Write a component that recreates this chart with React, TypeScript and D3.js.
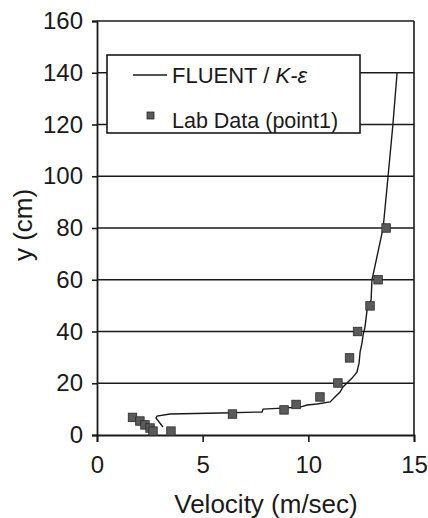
import React, { useEffect, useRef } from "react";
import * as d3 from "d3";

const xTicks = [0, 5, 10, 15];
const yTicks = [0, 20, 40, 60, 80, 100, 120, 140, 160];

// FLUENT / k-epsilon profile (velocity m/s, height cm)
const lineVel = [3.12, 2.79, 2.84, 3.45, 5.82, 7.81, 7.86, 8.76, 9.61, 9.94, 10.41, 11.03, 11.26, 11.5, 11.64, 11.83, 12.07, 12.3, 12.4, 12.45, 12.54, 12.59, 12.68, 12.78, 12.97, 13.01, 13.54, 13.77, 14.0, 14.2];
const lineY = [3.1, 6.6, 7.3, 8.1, 8.5, 8.9, 10.0, 10.4, 10.8, 11.6, 12.0, 12.8, 14.7, 16.6, 18.6, 20.1, 22.0, 24.3, 27.8, 32.1, 35.6, 38.6, 41.7, 48.3, 52.2, 59.9, 80, 99.7, 119.8, 140];

// Lab data (point1)
const labVel = [1.68, 2.03, 2.27, 2.51, 2.65, 3.5, 6.41, 8.85, 9.42, 10.55, 11.4, 11.95, 12.33, 12.92, 13.3, 13.68];
const labY = [6.8, 5.4, 3.9, 2.7, 1.5, 1.5, 8.1, 9.7, 11.8, 14.7, 20.1, 29.8, 40, 49.9, 60, 80];

const W = 428;
const H = 518;
const M = { left: 97, top: 21, right: 14, bottom: 83 };
const tickFont = "'Liberation Sans Narrow', 'Liberation Sans', Arial, sans-serif";
const font = "'Liberation Sans', Arial, sans-serif";

export default function App() {
  const ref = useRef<SVGSVGElement>(null);
  useEffect(() => {
    const svg = d3.select(ref.current);
    svg.selectAll("*").remove();
    const x = d3.scaleLinear().domain([0, 15]).range([M.left, W - M.right]);
    const y = d3.scaleLinear().domain([0, 160]).range([H - M.bottom, M.top]);

    const g = svg.append("g");
    // gridlines
    g.selectAll("line.grid")
      .data(yTicks.slice(1))
      .join("line")
      .attr("x1", x(0))
      .attr("x2", x(15))
      .attr("y1", (d) => y(d))
      .attr("y2", (d) => y(d))
      .attr("stroke", "#1a1a1a")
      .attr("stroke-width", 1.6);
    // right border
    g.append("line")
      .attr("x1", x(15)).attr("x2", x(15))
      .attr("y1", y(160)).attr("y2", y(0))
      .attr("stroke", "#1a1a1a").attr("stroke-width", 1.6);

    // axes
    const xAxis = d3.axisBottom(x).tickValues(xTicks).tickSize(7).tickPadding(14).tickFormat(d3.format("d"));
    const gx = svg.append("g").attr("transform", `translate(0,${y(0)})`).call(xAxis);
    gx.select(".domain").attr("stroke", "#1a1a1a").attr("stroke-width", 1.8);
    gx.selectAll(".tick line").attr("stroke", "#1a1a1a").attr("stroke-width", 1.6);
    gx.selectAll(".tick text")
      .attr("font-family", tickFont)
      .attr("font-size", 24)
      .attr("fill", "#1a1a1a");

    const yAxis = d3.axisLeft(y).tickValues(yTicks).tickSize(5).tickPadding(9).tickFormat(d3.format("d"));
    const gy = svg.append("g").attr("transform", `translate(${x(0)},0)`).call(yAxis);
    gy.select(".domain").attr("stroke", "#1a1a1a").attr("stroke-width", 1.8);
    gy.selectAll(".tick line").attr("stroke", "#1a1a1a").attr("stroke-width", 1.6);
    gy.selectAll(".tick text")
      .attr("font-family", tickFont)
      .attr("font-size", 24)
      .attr("fill", "#1a1a1a");

    // FLUENT line
    const pts = lineVel.map((v, i) => [v, lineY[i]] as [number, number]);
    const line = d3.line<[number, number]>().x((d) => x(d[0])).y((d) => y(d[1]));
    svg.append("path")
      .attr("d", line(pts))
      .attr("fill", "none")
      .attr("stroke", "#1a1a1a")
      .attr("stroke-width", 1.4);

    // Lab points
    const s = 8.5;
    svg.selectAll("rect.lab")
      .data(labVel.map((v, i) => [v, labY[i]]))
      .join("rect")
      .attr("x", (d) => x(d[0]) - s / 2)
      .attr("y", (d) => y(d[1]) - s / 2)
      .attr("width", s)
      .attr("height", s)
      .attr("fill", "#5a5a5a")
      .attr("stroke", "#2a2a2a")
      .attr("stroke-width", 0.8);

    // legend
    const lg = svg.append("g");
    lg.append("rect")
      .attr("x", 107).attr("y", 55).attr("width", 253).attr("height", 78)
      .attr("fill", "#fff").attr("stroke", "#1a1a1a").attr("stroke-width", 1.6);
    lg.append("line")
      .attr("x1", 133).attr("x2", 167).attr("y1", 75).attr("y2", 75)
      .attr("stroke", "#1a1a1a").attr("stroke-width", 1.4);
    const t1 = lg.append("text")
      .attr("x", 172).attr("y", 83)
      .attr("font-family", font).attr("font-size", 22).attr("fill", "#1a1a1a");
    t1.append("tspan").text("FLUENT / ");
    t1.append("tspan").attr("font-style", "italic").text("K-ε");
    lg.append("rect")
      .attr("x", 147).attr("y", 112).attr("width", 7).attr("height", 7)
      .attr("fill", "#5a5a5a").attr("stroke", "#2a2a2a").attr("stroke-width", 0.8);
    lg.append("text")
      .attr("x", 172).attr("y", 128)
      .attr("font-family", font).attr("font-size", 21.5).attr("fill", "#1a1a1a")
      .text("Lab Data (point1)");

    // axis titles
    svg.append("text")
      .attr("x", 266).attr("y", 513)
      .attr("text-anchor", "middle")
      .attr("font-family", font).attr("font-size", 26).attr("fill", "#1a1a1a")
      .text("Velocity (m/sec)");
    svg.append("text")
      .attr("transform", `translate(32,225) rotate(-90)`)
      .attr("text-anchor", "middle")
      .attr("font-family", font).attr("font-size", 26).attr("fill", "#1a1a1a")
      .text("y (cm)");
  }, []);
  return (
    <svg
      ref={ref}
      width={W}
      height={H}
      style={{ position: "absolute", left: 0, top: 0, background: "#fff", display: "block" }}
    />
  );
}
